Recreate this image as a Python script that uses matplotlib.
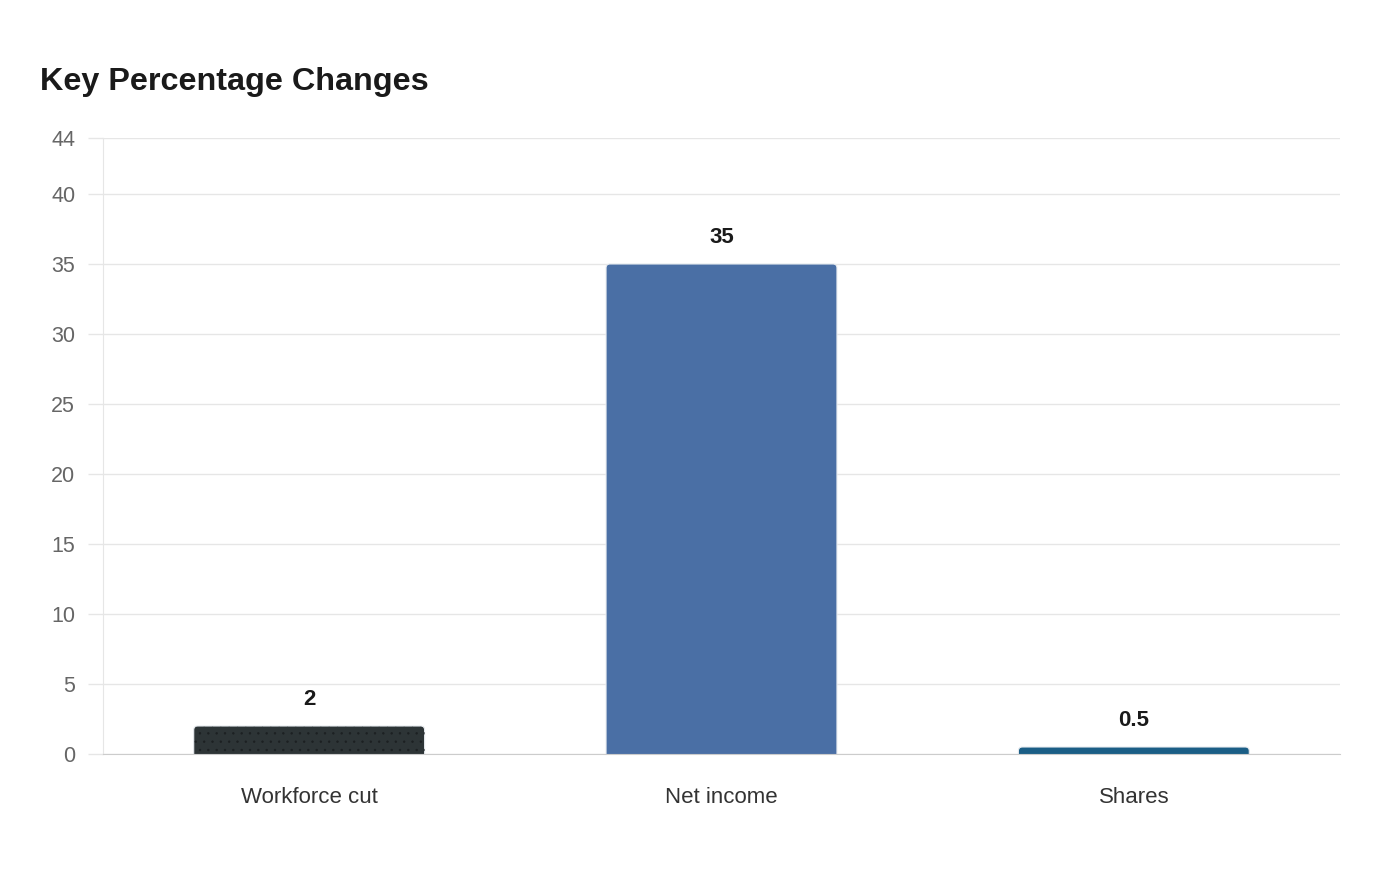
import matplotlib
matplotlib.use("Agg")
import matplotlib.pyplot as plt
from matplotlib.patches import FancyBboxPatch

plt.rcParams['font.family'] = ['Liberation Sans', 'DejaVu Sans']

categories = ["Workforce cut", "Net income", "Shares"]
values = [2, 35, 0.5]
labels = ["2", "35", "0.5"]
colors = ["#2d3436", "#4a6fa5", "#1b5e86"]
yticks = [0, 5, 10, 15, 20, 25, 30, 35, 40, 44]

fig = plt.figure(figsize=(14, 8.8), dpi=100)
ax = fig.add_axes([103/1400, 1 - 754/880, 1237/1400, 616/880])
ax.set_xlim(-0.5, 2.5)
ax.set_ylim(0, 44)

# px -> data units, for rounded top corners
xpp = 3 / 1237
ypp = 44 / 616
r = 4 * xpp
aspect = ypp / xpp
bw = 0.56

for i, (v, c) in enumerate(zip(values, colors)):
    y0 = -4 * ypp
    p = FancyBboxPatch((i - bw/2, y0), bw, v - y0,
                       boxstyle=f"round,pad=0,rounding_size={r}",
                       mutation_aspect=aspect, facecolor=c,
                       edgecolor="#e8ecf0", linewidth=0.8, zorder=3)
    ax.add_patch(p)
    if i == 0:
        plt.rcParams['hatch.linewidth'] = 0.5
        h = FancyBboxPatch((i - bw/2, y0), bw, v - y0,
                           boxstyle=f"round,pad=0,rounding_size={r}",
                           mutation_aspect=aspect, facecolor="none",
                           edgecolor="#1c2022", linewidth=0, hatch="..",
                           zorder=3.5)
        ax.add_patch(h)
    ax.annotate(labels[i], (i, v), xytext=(0, 19), textcoords="offset points",
                ha="center", va="center", fontsize=16, fontweight="bold",
                color="#1a1a1a", zorder=5)

ax.set_yticks(yticks)
ax.set_yticklabels([str(t) for t in yticks])
ax.set_xticks(range(len(categories)))
ax.set_xticklabels(categories)
ax.grid(axis="y", color="#e6e6e6", linewidth=1, zorder=0)
ax.set_axisbelow(True)

ax.tick_params(axis="y", length=11, color="#e6e6e6", width=1, pad=9,
               labelsize=15.5, labelcolor="#666666")
ax.tick_params(axis="x", length=0, pad=24, labelsize=16, labelcolor="#333333")

for s in ["top", "right"]:
    ax.spines[s].set_visible(False)
ax.spines["left"].set_color("#e6e6e6")
ax.spines["bottom"].set_color("#cccccc")
ax.spines["bottom"].set_zorder(4)

fig.text(40/1400, 1 - 90/880, "Key Percentage Changes", fontsize=23.3,
         fontweight="bold", color="#1a1a1a", ha="left", va="baseline")

fig.savefig("out.png", dpi=100, facecolor="white")
